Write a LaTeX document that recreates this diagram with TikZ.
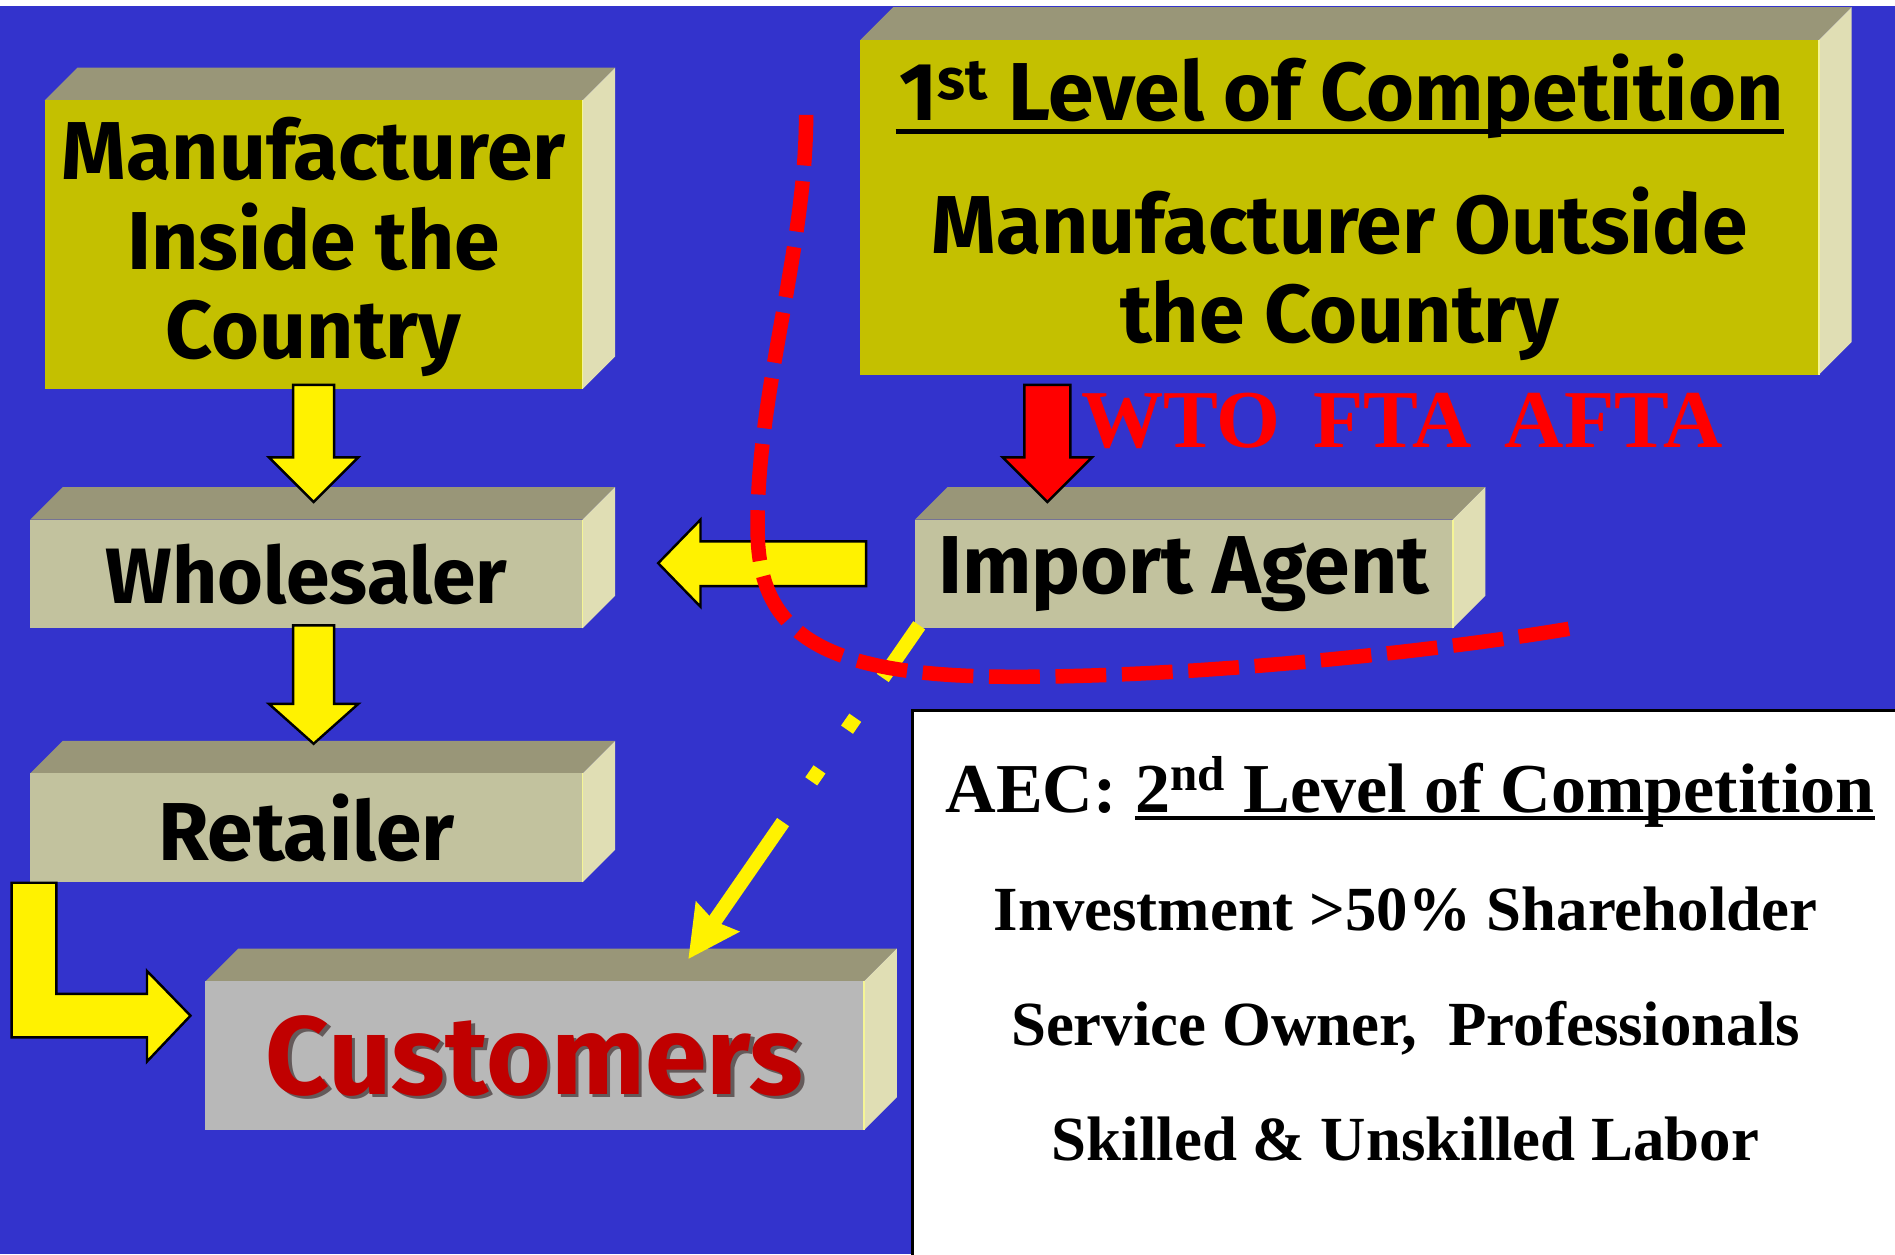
\documentclass[tikz,border=0pt]{standalone}
\usepackage{fontspec}
\setmainfont{Liberation Serif}
\newfontfamily\comic{Fira Sans}
\usetikzlibrary{calc,arrows.meta,fit}
\definecolor{bgblue}{RGB}{51,51,204}
\definecolor{olivefront}{RGB}{196,192,0}
\definecolor{khakifront}{RGB}{194,194,158}
\definecolor{topface}{RGB}{153,150,120}
\definecolor{sideface}{RGB}{224,222,180}
\definecolor{edgeline}{RGB}{245,245,150}
\definecolor{custgrey}{RGB}{184,184,184}
\definecolor{custred}{RGB}{192,0,0}
\definecolor{shadowgrey}{RGB}{100,90,90}
\newcommand\slabbox[6]{%
  \fill[topface] (#2,#3) -- (#2+27,#3-27) -- (#4+27,#3-27) -- (#4,#3) -- cycle;
  \fill[sideface] (#4,#3) -- (#4+27,#3-27) -- (#4+27,#5-27) -- (#4,#5) -- cycle;
  \node[fit={(#2,#3) (#4,#5)}, inner sep=0pt, fill=#6] (#1) {};
  \draw[edgeline, line width=0.8pt] (#4,#3) -- (#4,#5);
}
\begin{document}
\begin{tikzpicture}[x=0.5pt,y=-0.5pt,
  ctext/.style={font=\comic\bfseries\fontsize{34}{37}\selectfont, align=center, text=black, inner sep=0pt},
  ctextw/.style={ctext, font=\comic\bfseries\fontsize{32.5}{37}\selectfont},
  custtext/.style={font=\comic\bfseries\fontsize{46}{50}\selectfont, inner sep=0pt},
  stitle/.style={font=\bfseries\fontsize{29}{30}\selectfont, inner sep=0pt, text=black},
  sline/.style={font=\bfseries\fontsize{26}{28}\selectfont, inner sep=0pt, text=black},
  yarrow/.style={fill=yellow, draw=black, line width=1pt, line join=miter},
  rarrow/.style={fill=red, draw=black, line width=1pt, line join=miter},
  reddash/.style={draw=red, line width=6pt, dash pattern=on 21pt off 6.5pt},
  ydash/.style={draw=yellow, line width=6pt, dash pattern=on 26.5pt off 20pt on 6pt off 20pt on 6pt off 20.5pt on 150pt,
    -{Stealth[length=21pt,width=21pt,inset=2pt]}},
]
\useasboundingbox (0,0) rectangle (1568,1038);
\fill[white] (0,0) rectangle (1568,1038);
\fill[bgblue] (0,5) rectangle (1568,1038);

% boxes
\slabbox{mi}{37}{83}{482}{322}{olivefront}
\slabbox{mo}{712}{33}{1505}{310}{olivefront}
\slabbox{wh}{25}{430}{482}{520}{khakifront}
\slabbox{ia}{757}{430}{1202}{520}{khakifront}
\slabbox{re}{25}{640}{482}{730}{khakifront}
\slabbox{cu}{170}{812}{715}{935}{custgrey}

% block arrows
\draw[yarrow] (mi.south) ++(-17,-4) -- ++(0,60) -- ++(-20,0) -- ++(37,37) -- ++(37,-37) -- ++(-20,0) -- ++(0,-60) -- cycle;
\draw[yarrow] (wh.south) ++(-11,-3) -- ++(0,65) -- ++(-20,0) -- ++(37,33) -- ++(37,-33) -- ++(-20,0) -- ++(0,-65) -- cycle;
\draw[yarrow] (ia.west) ++(-40,-27) -- ++(-137,0) -- ++(0,-18) -- ++(-35,36) -- ++(35,36) -- ++(0,-17) -- ++(137,0) -- cycle;
\draw[yarrow] (re.south west) ++(-15,0) -- ++(0,128) -- ++(112,0) -- ++(0,20) -- ++(36,-38) -- ++(-36,-37) -- ++(0,19) -- ++(-75,0) -- ++(0,-92) -- cycle;
\draw[rarrow] (mo.south west) ++(136,8) -- ++(0,60) -- ++(-18,0) -- ++(37,37) -- ++(37,-37) -- ++(-18,0) -- ++(0,-60) -- cycle;

% yellow dash-dot connector
\coordinate (ystart) at ($(ia.south west)+(4,-3)$);
\coordinate (yend) at ($(cu.north)+(127,-18)$);
\draw[ydash] (ystart) -- (yend);

% red dashed boundary
\draw[reddash] (667,95) .. controls (667,210) and (624,330) .. (627,445)
  .. controls (630,530) and (690,560) .. (840,560)
  .. controls (1000,560) and (1200,537) .. (1300,520);

% white info box
\node[draw=black, fill=white, line width=1pt, fit={(755,588) (1572,1042)}, inner sep=0pt] (aec) {};

% texts
\node[ctext] (mitxt) at ($(mi)+(0,2)$) {Manufacturer\\Inside the\\Country};
\node[ctextw] (whtxt) at (wh) {Wholesaler};
\node[ctext] (retxt) at (re) {Retailer};
\node[ctext] (iatxt) at (ia) {Import Agent};
\node[ctext, anchor=base] (mot1) at (1110,100) {1\textsuperscript{st} Level of Competition};
\draw[line width=2pt] ($(mot1.base west)+(-3,9)$) -- ($(mot1.base east)+(0,9)$);
\node[ctext] (mot2) at ($(mo)+(0,55)$) {Manufacturer Outside\\the Country};
\node[custtext, text=shadowgrey] (cushadow) at ($(cu)+(3,3)$) {Customers};
\node[custtext, text=custred] (cutxt) at (cu) {Customers};
\node[font=\bfseries\fontsize{34}{34}\selectfont, text=red, inner sep=0pt, anchor=base] (wto) at (1160,370) {WTO\hspace{0.15em} FTA\hspace{0.15em} AFTA};

\node[stitle, anchor=base west] (aec1a) at (782,672) {AEC:\kern0.25em};
\node[stitle, anchor=base west] (aec1b) at (aec1a.base east) {2\textsuperscript{nd} Level of Competition};
\draw[line width=1.5pt] ($(aec1b.base west)+(0,5)$) -- ($(aec1b.base east)+(0,5)$);
\node[sline, anchor=base] (aec2) at (1163,770) {Investment >50\% Shareholder};
\node[sline, anchor=base] (aec3) at (1163,865) {Service Owner,\ \ Professionals};
\node[sline, anchor=base] (aec4) at (1163,960) {Skilled \& Unskilled Labor};
\end{tikzpicture}
\end{document}
